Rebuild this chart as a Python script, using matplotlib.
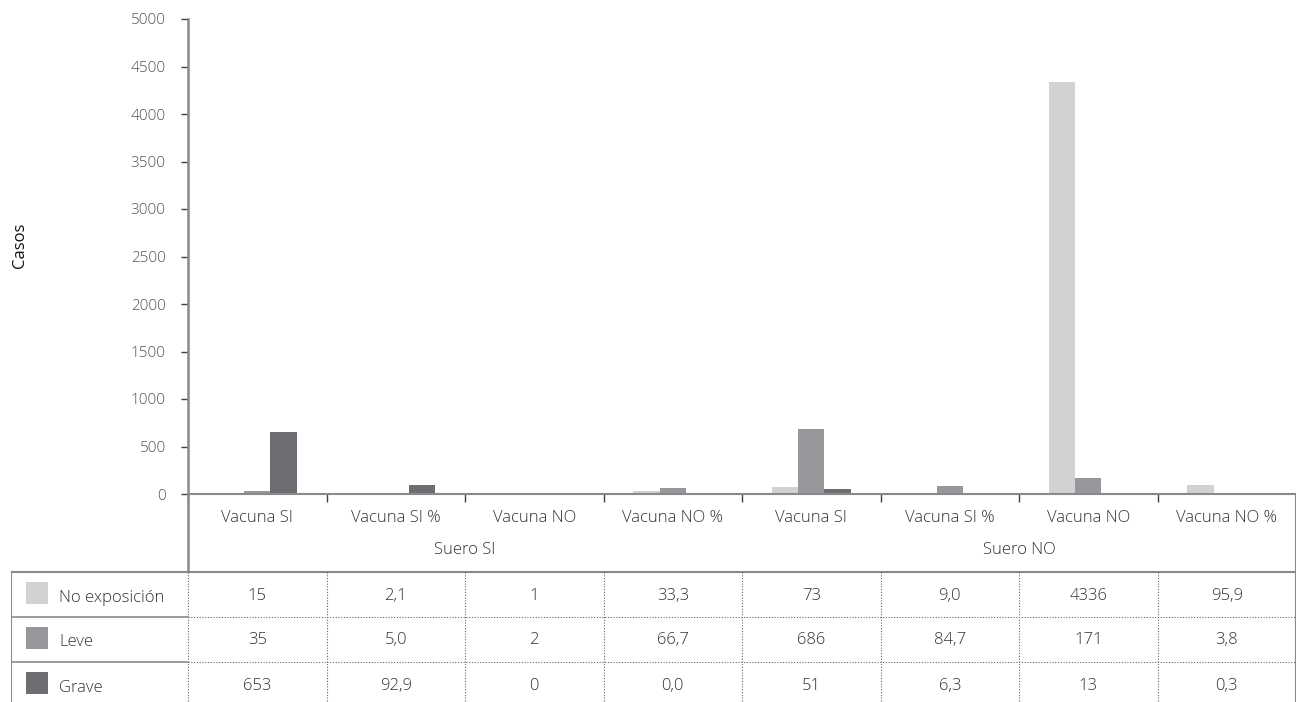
import matplotlib
matplotlib.use("Agg")
import matplotlib.pyplot as plt
from matplotlib.patches import Rectangle

# ---- data ----
categories = ["Vacuna SI", "Vacuna SI %", "Vacuna NO", "Vacuna NO %",
              "Vacuna SI", "Vacuna SI %", "Vacuna NO", "Vacuna NO %"]
groups = ["Suero SI", "Suero NO"]
is_percent = [False, True, False, True, False, True, False, True]
series_names = ["No exposición", "Leve", "Grave"]
no_exposicion = [15, 2.1, 1, 33.3, 73, 9.0, 4336, 95.9]
leve = [35, 5.0, 2, 66.7, 686, 84.7, 171, 3.8]
grave = [653, 92.9, 0, 0.0, 51, 6.3, 13, 0.3]
series_values = [no_exposicion, leve, grave]
colors = ["#D1D2D4", "#97989B", "#6D6E71"]
y_ticks = list(range(0, 5001, 500))
y_label = "Casos"

plt.rcParams['font.family'] = ['Open Sans', 'DejaVu Sans']
FONT_W = 'light'
TXT = "#333333"
LINE = "#8a8a8a"

W, H = 1296, 702
fig = plt.figure(figsize=(W / 100, H / 100), dpi=100)

x0, x1 = 188, 1296
y_base, y_top = 494, 19
ax = fig.add_axes([x0 / W, (H - y_base) / H, (x1 - x0) / W, (y_base - y_top) / H])

n = len(categories)
bw = 0.19
for k, (vals, col) in enumerate(zip(series_values, colors)):
    xs = [i + 0.5 + (k - 1) * bw for i in range(n)]
    ax.bar(xs, vals, width=bw, color=col, linewidth=0, zorder=2)

ax.set_xlim(0, n)
ax.set_ylim(0, 5000)
ax.set_yticks(y_ticks)
ax.set_yticklabels([str(v) for v in y_ticks], fontsize=11, color="#555555", fontweight=FONT_W)
ax.tick_params(axis='y', length=5, width=1, color="#404040", pad=11)
ax.set_xticks(range(n + 1))
ax.set_xticklabels([])
ax.tick_params(axis='x', length=6, width=1, color="#404040", direction='out')
for s in ['top', 'right']:
    ax.spines[s].set_visible(False)
ax.spines['left'].set_color(LINE)
ax.spines['left'].set_linewidth(1.8)
ax.spines['bottom'].set_color(LINE)
ax.spines['bottom'].set_linewidth(1.5)

fig.text(20 / W, 1 - 245 / H, y_label, rotation=90, ha='center', va='center',
         fontsize=12, color="#111111")

# ---- table area ----
tl = 11
px_per_unit = (x1 - x0) / n
left_u = -(x0 - tl) / px_per_unit
tax = fig.add_axes([tl / W, 0, (W - tl) / W, (H - y_base) / H])
tax.set_xlim(left_u, n)
tax.set_ylim(H - y_base, 0)
tax.axis('off')

hdr_y, grp_y, top_y, row_h = 24, 56, 78, 45
fs = 12
for i, c in enumerate(categories):
    tax.text(i + 0.5, hdr_y, c, ha='center', va='center', fontsize=fs, color=TXT, fontweight=FONT_W)
per = n // len(groups)
for g, name in enumerate(groups):
    tax.text(g * per + per / 2, grp_y, name, ha='center', va='center', fontsize=fs, color=TXT, fontweight=FONT_W)

# lines
tax.plot([0, 0], [0, top_y], color=LINE, lw=1.8, solid_capstyle='butt')
tax.plot([n, n], [0, H - y_base], color=LINE, lw=1.5, solid_capstyle='butt')
tax.plot([left_u, n], [top_y, top_y], color=LINE, lw=1.5)
tax.plot([left_u, left_u], [top_y, H - y_base], color=LINE, lw=1.5)
dot = (0, (1, 1.5))
for i in range(n):
    tax.plot([i, i], [top_y, H - y_base], color="#666666", lw=0.8, linestyle=dot)
for r in range(1, len(series_names)):
    yy = top_y + r * row_h
    tax.plot([left_u, 0], [yy, yy], color=LINE, lw=1.2)
    tax.plot([0, n], [yy, yy], color="#666666", lw=0.8, linestyle=dot)

sw = 22
for r, (name, vals, col) in enumerate(zip(series_names, series_values, colors)):
    yc = top_y + r * row_h + row_h / 2
    tax.add_patch(Rectangle((left_u + 15 / px_per_unit, yc - 1.5 - sw / 2), sw / px_per_unit, sw,
                            facecolor=col, edgecolor='none'))
    tax.text(left_u + 48 / px_per_unit, yc + 3, name, ha='left', va='center', fontsize=fs,
             color=TXT, fontweight=FONT_W)
    for i, v in enumerate(vals):
        s = f"{v:.1f}".replace('.', ',') if is_percent[i] else str(int(v))
        tax.text(i + 0.5, yc + 1, s, ha='center', va='center', fontsize=fs, color=TXT, fontweight=FONT_W)

fig.savefig("out.png", dpi=100)
